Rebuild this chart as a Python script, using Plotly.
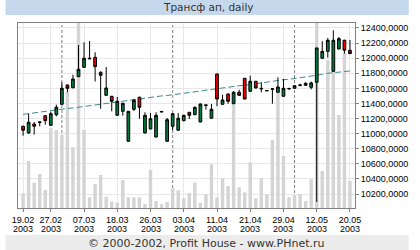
import plotly.graph_objects as go

dates = [
    "19.02.2003", "20.02.2003", "21.02.2003", "25.02.2003", "26.02.2003", "27.02.2003", "28.02.2003",
    "03.03.2003", "04.03.2003", "05.03.2003", "06.03.2003", "07.03.2003", "11.03.2003", "12.03.2003",
    "13.03.2003", "14.03.2003", "17.03.2003", "18.03.2003", "19.03.2003", "20.03.2003", "21.03.2003",
    "24.03.2003", "25.03.2003", "26.03.2003", "27.03.2003", "28.03.2003", "31.03.2003",
    "01.04.2003", "02.04.2003", "03.04.2003", "04.04.2003", "07.04.2003", "08.04.2003", "09.04.2003",
    "10.04.2003", "11.04.2003", "14.04.2003", "15.04.2003", "16.04.2003", "17.04.2003", "18.04.2003",
    "21.04.2003", "22.04.2003", "23.04.2003", "24.04.2003", "25.04.2003", "28.04.2003", "29.04.2003",
    "30.04.2003", "05.05.2003", "06.05.2003", "07.05.2003", "08.05.2003", "12.05.2003", "13.05.2003",
    "14.05.2003", "15.05.2003", "16.05.2003", "19.05.2003", "20.05.2003",
]

open_ = [11098, 11009, 11128, 11148, 11238, 11111, 11251, 11389, 11645, 11609,
         11755, 11879, 11990, 12011, 11813, 11508, 11495, 11243, 11296, 10899,
         11323, 11482, 11009, 11062, 10956, 11286, 10899, 11098, 11045, 11172,
         11283, 11251, 11155, 11374, 11204, 11790, 11389, 11525, 11397, 11548,
         11733, 11561, 11694, 11600, 11566, 11588, 11548, 11495, 11594, 11601,
         11638, 11641, 11614, 11681, 11999, 12091, 11826, 12122, 12237, 12105]
high = [11105, 11264, 11154, 11155, 11242, 11291, 11384, 11681, 11650, 11781,
        12175, 12210, 12228, 12078, 11825, 11883, 11500, 11486, 11410, 11300,
        11460, 11490, 11283, 11274, 11283, 11295, 11208, 11270, 11274, 11250,
        11287, 11360, 11400, 11382, 11393, 11795, 11516, 11530, 11565, 11582,
        11738, 11768, 11698, 11681, 11572, 11596, 11747, 11724, 11608, 11640,
        11660, 11680, 11690, 12140, 12224, 12268, 12369, 12280, 12245, 12241]
low = [10973, 11000, 10986, 11098, 11119, 11105, 11230, 11380, 11548, 11600,
       11750, 11870, 11988, 11690, 11330, 11500, 11296, 11240, 11238, 10895,
       11300, 11198, 11005, 11060, 10950, 11285, 10895, 11045, 11040, 11165,
       11194, 11248, 11150, 11318, 11200, 11363, 11385, 11397, 11393, 11505,
       11455, 11558, 11600, 11548, 11565, 11397, 11545, 11490, 11580, 11598,
       11628, 11638, 11587, 10095, 11995, 12007, 11820, 12118, 12060, 12055]
close = [11045, 11151, 11098, 11155, 11172, 11264, 11349, 11601, 11601, 11724,
         11853, 11999, 11998, 11887, 11773, 11605, 11429, 11429, 11402, 11296,
         11442, 11349, 11243, 11198, 11243, 11294, 11185, 11264, 11204, 11243,
         11243, 11349, 11393, 11380, 11323, 11459, 11446, 11429, 11548, 11508,
         11459, 11694, 11605, 11594, 11571, 11594, 11618, 11601, 11598, 11635,
         11644, 11667, 11672, 12135, 12091, 12237, 12237, 12258, 12105, 12060]

volume = [14700, 47000, 25300, 34000, 18000, 80000, 78000, 73300, 116000, 60700,
          200000, 78000, 10700, 24000, 33000, 11300, 6300, 5300, 28000, 10700,
          10700, 10700, 4000, 38000, 7000, 3700, 6000, 19700, 17700, 9700,
          15000, 25300, 5000, 13700, 43700, 10700, 29700, 22000, 108000, 20700,
          15700, 45700, 9700, 29700, 13700, 68000, 116000, 52000, 10700, 13000,
          14000, 7000, 28700, 200000, 37000, 148000, 140000, 93000, 155000, 27000]

ma = [11255, 11265, 11280, 11290, 11300, 11305, 11320, 11325, 11335, 11340,
      11355, 11360, 11370, 11380, 11390, 11400, 11410, 11420, 11430, 11440,
      11450, 11465, 11475, 11480, 11490, 11500, 11505, 11515, 11525, 11535,
      11550, 11560, 11565, 11575, 11585, 11595, 11605, 11615, 11625, 11635,
      11640, 11650, 11660, 11680, 11690, 11700, 11705, 11715, 11720, 11730,
      11740, 11745, 11760, 11770, 11785, 11800, 11805, 11815, 11820, 11830]

tick_dates = ["19.02.2003", "27.02.2003", "07.03.2003", "18.03.2003", "26.03.2003", "03.04.2003",
              "11.04.2003", "21.04.2003", "29.04.2003", "12.05.2003", "20.05.2003"]
price_ticks = [10200, 10400, 10600, 10800, 11000, 11200, 11400, 11600, 11800, 12000, 12200, 12400]

title = "Трансф ап, daily"
footer = "© 2000-2002, Profit House - www.PHnet.ru"

PRICE_RANGE = [10015, 12466]

fig = go.Figure()
fig.add_trace(go.Bar(x=dates, y=volume, yaxis="y", marker=dict(color="#d4d4d4", line=dict(width=0)),
                     width=0.62, hoverinfo="skip"))
fig.add_trace(go.Scatter(x=dates, y=ma, yaxis="y2", mode="lines",
                         line=dict(color="#3f8a8a", width=1, dash="6px,3px")))
fig.add_trace(go.Candlestick(x=dates, open=open_, high=high, low=low, close=close, yaxis="y3",
                             whiskerwidth=0,
                             increasing=dict(fillcolor="#007a3d", line=dict(color="black", width=1)),
                             decreasing=dict(fillcolor="#f00000", line=dict(color="black", width=1))))

# month-start dashed separators
shapes = []
for i in range(1, len(dates)):
    if dates[i][3:5] != dates[i - 1][3:5]:
        shapes.append(dict(type="line", xref="x", yref="paper", x0=dates[i], x1=dates[i], y0=0, y1=1,
                           line=dict(color="#808080", width=1, dash="3px,2px"), layer="below"))

# title band and footer band (pixel -> paper conversion for 185px plot height)
PT, PB, PL, PR = 23, 208, 13, 364
ph = PB - PT
pw = PR - PL
def py(p):
    return (PB - p) / ph
def px(p):
    return (p - PL) / pw

shapes.append(dict(type="rect", xref="paper", yref="paper", x0=px(0), x1=px(420), y0=py(15), y1=py(0),
                   fillcolor="#c6d9ec", line=dict(width=0), layer="above"))
shapes.append(dict(type="rect", xref="paper", yref="paper", x0=px(0), x1=px(420), y0=py(250), y1=py(235),
                   fillcolor="#ececec", line=dict(width=0), layer="above"))

annotations = [
    dict(text=title, xref="paper", yref="paper", x=px(211), y=py(7.5), showarrow=False,
         xanchor="center", yanchor="middle", font=dict(family="DejaVu Sans", size=10.5, color="#333333")),
    dict(text=footer, xref="paper", yref="paper", x=px(209), y=py(243), showarrow=False,
         xanchor="center", yanchor="middle", font=dict(family="DejaVu Sans", size=11, color="#333333")),
]
# second line of the tick labels (year)
for d in tick_dates:
    annotations.append(dict(text=d[6:], xref="x", yref="paper", x=d, y=py(229), showarrow=False,
                            xanchor="center", yanchor="middle",
                            font=dict(family="Liberation Sans", size=9, color="black")))

fig.update_layout(
    width=420, height=250,
    margin=dict(l=PL, r=420 - PR, t=PT, b=250 - PB),
    paper_bgcolor="white", plot_bgcolor="white",
    showlegend=False,
    shapes=shapes,
    annotations=annotations,
    xaxis=dict(type="category", range=[-0.92, len(dates) - 0.09], rangeslider=dict(visible=False),
               tickmode="array", tickvals=tick_dates,
               ticktext=[d[:5] for d in tick_dates],
               ticks="outside", ticklen=3, tickcolor="#808080",
               showgrid=True, gridcolor="#e8e8e8", gridwidth=1,
               showline=True, linecolor="#808080", mirror=True,
               tickfont=dict(family="Liberation Sans", size=9, color="black"), tickangle=0),
    yaxis=dict(range=[0, 185000], visible=False, fixedrange=True),
    yaxis2=dict(range=PRICE_RANGE, overlaying="y", side="right",
                tickmode="array", tickvals=price_ticks, ticktext=[f"{v},0000" for v in price_ticks],
                ticks="outside", ticklen=3, tickcolor="#808080",
                showgrid=True, gridcolor="#e8e8e8", gridwidth=1, zeroline=False,
                showline=True, linecolor="#808080", mirror=True,
                tickfont=dict(family="Liberation Sans", size=9, color="black")),
    yaxis3=dict(range=PRICE_RANGE, overlaying="y", side="right", visible=False, showgrid=False),
    bargap=0.38,
)

fig.write_html("out.html")
